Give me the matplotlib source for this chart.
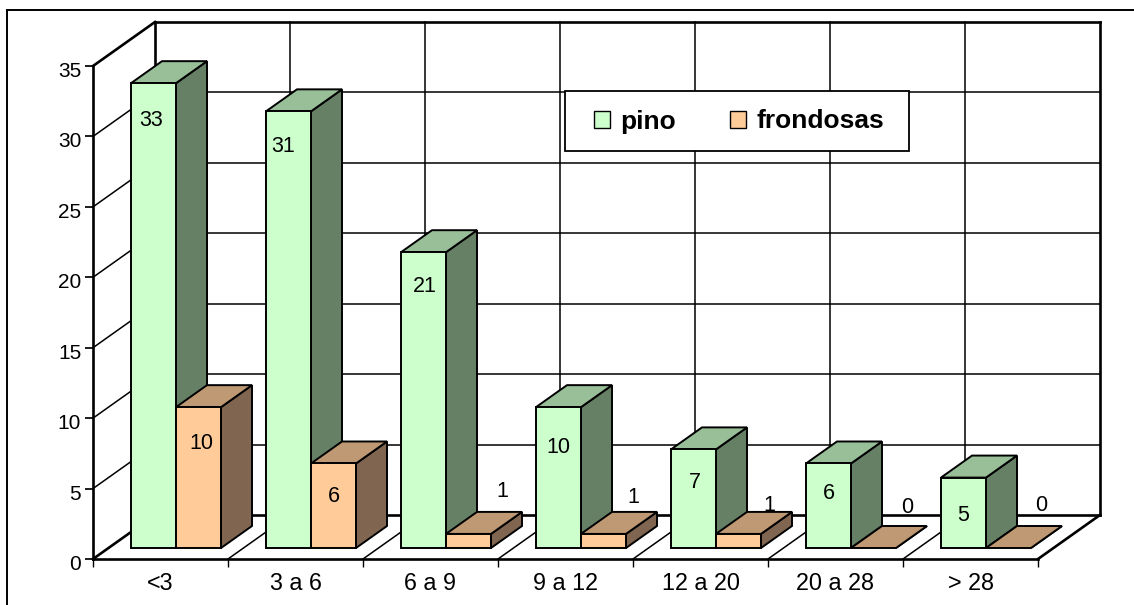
import matplotlib
matplotlib.use("Agg")
import matplotlib.pyplot as plt
from matplotlib.patches import Rectangle, Patch
from matplotlib.lines import Line2D
from matplotlib.transforms import ScaledTranslation

plt.rcParams['font.family'] = ['Liberation Sans', 'DejaVu Sans']

categories = ['<3', '3 a 6', '6 a 9', '9 a 12', '12 a 20', '20 a 28', '> 28']
pino = [33, 31, 21, 10, 7, 6, 5]
frondosas = [10, 6, 1, 1, 1, 0, 0]
yticks = [0, 5, 10, 15, 20, 25, 30, 35]

W, H = 1134, 605
fig = plt.figure(figsize=(W / 100, H / 100), dpi=100)
L, R, T, B = 93, 1038, 66, 559
ax = fig.add_axes([L / W, 1 - B / H, (R - L) / W, (B - T) / H])
ax.set_xlim(0, 7)
ax.set_ylim(0, 35)
for s in ax.spines.values():
    s.set_visible(False)
ax.patch.set_visible(False)

DX = 62 / 135   # depth offset in category units
DY = 44 / 14.086  # depth offset in value units
GRID = 1.1
EDGE = 1.4
HEAVY = 1.9
K = 'black'


def ln(xs, ys, lw=GRID, z=1):
    ax.plot(xs, ys, color=K, lw=lw, clip_on=False, zorder=z, solid_capstyle='projecting')


ymax = yticks[-1]
# back wall and side wall grid
for v in yticks:
    ln([DX, 7 + DX], [v + DY, v + DY], lw=GRID if 0 < v < ymax else HEAVY)
    if v > 0:
        ln([0, DX], [v, v + DY], lw=GRID if v < ymax else HEAVY)
for i in range(8):
    ln([i + DX, i + DX], [DY, ymax + DY], lw=GRID if 0 < i < 7 else HEAVY)
    ln([i, i + DX], [0, DY], lw=GRID if 0 < i < 7 else HEAVY)
ln([0, 0], [0, ymax], lw=HEAVY)
ln([0, 7], [0, 0], lw=HEAVY)

PINO = ('#CCFFCC', '#99BF99', '#668066')
FROND = ('#FFCC99', '#BF9973', '#806650')
z = 5


def bar(x0, x1, v, cols, z):
    ox, oy = DX * 0.25, DY * 0.25
    bx, by = DX * 0.5, DY * 0.5
    kw = dict(edgecolor=K, lw=EDGE, clip_on=False, zorder=z, joinstyle='miter')
    a, b = x0 + ox, x1 + ox
    ax.fill([b, b + bx, b + bx, b], [oy, oy + by, oy + by + v, oy + v], facecolor=cols[2], **kw)
    ax.fill([a, b, b + bx, a + bx], [oy + v, oy + v, oy + by + v, oy + by + v], facecolor=cols[1], **kw)
    if v > 0:
        ax.fill([a, b, b, a], [oy, oy, oy + v, oy + v], facecolor=cols[0], **kw)


pino_off = [(-2, -37), (-5, -35.5), (1, -34), (0, -40.5), (1, -33), (0, -30), (0, -37.5)]
frond_off = [(3, -36.5), (0, -33.5), (34, 42.5), (30, 36.5), (31, 28.5), (33.5, 40.5), (32.5, 42.5)]
for i, (p, f) in enumerate(zip(pino, frondosas)):
    x0, xm, x1 = i + 1 / 6, i + 0.5, i + 5 / 6
    bar(x0, xm, p, PINO, z)
    bar(xm, x1, f, FROND, z + 1)
    z += 2
    ox, oy = DX * 0.25, DY * 0.25
    for val, c, off in ((p, x0 + 1 / 6, pino_off[i]), (f, xm + 1 / 6, frond_off[i])):
        ax.annotate(str(val), (c + ox, val + oy), xytext=off, textcoords='offset pixels',
                    ha='center', va='center', fontsize=15.5, zorder=40, annotation_clip=False)

ax.set_yticks(yticks)
ax.set_xticks(range(8))
ax.set_xticklabels([])
ax.set_xticks([i + 0.5 for i in range(7)], categories, minor=True)
ax.tick_params(axis='y', length=6, width=1.25, labelsize=15, pad=2.5)
ax.tick_params(axis='x', which='major', length=6, width=1.0)
ax.tick_params(axis='x', which='minor', length=0, labelsize=16.8, pad=9)
shift = ScaledTranslation(0, -3.5 / 100, fig.dpi_scale_trans)
for lab in ax.get_yticklabels():
    lab.set_transform(lab.get_transform() + shift)

# legend box drawn in figure pixels, legend entries on top of it
ax.add_patch(Rectangle((565 / W, 1 - 150.5 / H), 344 / W, 60 / H, transform=fig.transFigure,
                       facecolor='white', edgecolor=K, lw=1.3, zorder=49, clip_on=False))
leg = ax.legend(handles=[Patch(facecolor=PINO[0], edgecolor=K, lw=1.0, label='pino'),
                         Patch(facecolor=FROND[0], edgecolor=K, lw=1.0, label='frondosas')],
                ncol=2, loc='center', bbox_to_anchor=((739 - L) / (R - L), 1 - (121.5 - T) / (B - T)),
                frameon=False, prop={'weight': 'bold', 'size': 19},
                handlelength=0.6, handleheight=0.62, handletextpad=0.38, columnspacing=2.08,
                borderpad=0, borderaxespad=0)
leg.set_zorder(50)

# outer border: only its left and top edges fall inside the picture
fig.add_artist(Line2D([7 / W, 7 / W, 1], [0, 1 - 10 / H, 1 - 10 / H], transform=fig.transFigure,
                      color=K, lw=1.4, solid_joinstyle='miter'))
fig.savefig('out.png', dpi=100)
